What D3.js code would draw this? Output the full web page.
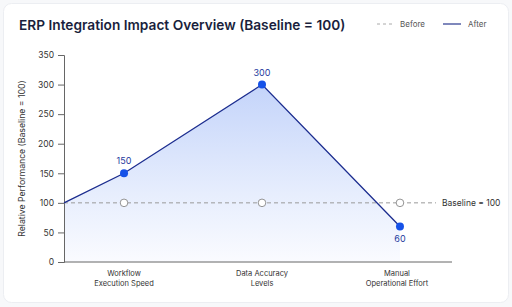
<!DOCTYPE html>
<html>
<head>
<meta charset="utf-8">
<script src="https://cdn.jsdelivr.net/npm/d3@7"></script>
<style>
  html, body { margin: 0; padding: 0; background: #f7f8fa; }
  svg { display: block; font-family: Inter, "Noto Sans", sans-serif; }
</style>
</head>
<body>
<div id="chart"></div>
<script>
// chart values
const categories = [["Workflow", "Execution Speed"], ["Data Accuracy", "Levels"], ["Manual", "Operational Effort"]];
const beforeValues = [100, 100, 100];
const afterValues = [150, 300, 60];
const startValue = 100;
const yTicks = [0, 50, 100, 150, 200, 250, 300, 350];

const width = 512, height = 307;
const margin = {left: 64, right: 52, top: 55, bottom: 45};

const svg = d3.select("#chart").append("svg")
    .attr("width", width)
    .attr("height", height);

// card
svg.append("rect")
    .attr("x", 3.5).attr("y", 3.5)
    .attr("width", width - 7).attr("height", height - 8)
    .attr("rx", 8)
    .attr("fill", "#fff")
    .attr("stroke", "#eceef2");

const keys = categories.map(d => d.join(" "));
const x = d3.scalePoint()
    .domain(keys)
    .range([margin.left, 460])
    .padding(0.435);

const y = d3.scaleLinear()
    .domain([0, 350])
    .range([height - margin.bottom, margin.top]);

// gradient for area
const defs = svg.append("defs");
const grad = defs.append("linearGradient")
    .attr("id", "areaGrad")
    .attr("x1", 0).attr("y1", 0).attr("x2", 0).attr("y2", 1);
grad.append("stop").attr("offset", "0%").attr("stop-color", "#c4d4fa");
grad.append("stop").attr("offset", "60%").attr("stop-color", "#e6edfd");
grad.append("stop").attr("offset", "100%").attr("stop-color", "#fafbff");

const afterPts = [[margin.left, startValue]].concat(afterValues.map((v, i) => [x(keys[i]), v]));

const area = d3.area()
    .x(d => d[0])
    .y0(y(0))
    .y1(d => y(d[1]));

svg.append("path")
    .datum(afterPts)
    .attr("fill", "url(#areaGrad)")
    .attr("d", area);

// axes
const yAxis = d3.axisLeft(y)
    .tickValues(yTicks)
    .tickSize(6)
    .tickPadding(4);

svg.append("g")
    .attr("transform", `translate(${margin.left},0)`)
    .call(yAxis)
    .call(g => g.selectAll("path, line").attr("stroke", "#666"))
    .call(g => g.selectAll("text")
        .attr("fill", "#333")
        .style("font-size", "8.5px")
        .style("font-family", "Inter, sans-serif"));

svg.append("line")
    .attr("x1", margin.left).attr("x2", width - margin.right - 8)
    .attr("y1", y(0)).attr("y2", y(0))
    .attr("stroke", "#666");

svg.append("text")
    .attr("transform", `translate(25,${(y(0) + y(350)) / 2}) rotate(-90)`)
    .attr("text-anchor", "middle")
    .attr("fill", "#333")
    .style("font-size", "8.7px")
    .text("Relative Performance (Baseline = 100)");

// category labels
const catLabels = svg.append("g")
    .selectAll("text")
    .data(categories)
    .join("text")
    .attr("text-anchor", "middle")
    .attr("fill", "#333")
    .style("font-size", "7.5px")
    .attr("transform", (d, i) => `translate(${x(keys[i]) - (i === 2 ? 3 : 0)},${y(0) + 14})`);
catLabels.selectAll("tspan")
    .data(d => d)
    .join("tspan")
    .attr("x", 0)
    .attr("dy", (d, i) => i === 0 ? 0 : 10)
    .text(d => d);

// before baseline
svg.append("line")
    .attr("x1", margin.left).attr("x2", 436)
    .attr("y1", y(100)).attr("y2", y(100))
    .attr("stroke", "#999")
    .attr("stroke-dasharray", "4,3");

svg.append("text")
    .attr("x", 442)
    .attr("y", y(100) + 3)
    .attr("fill", "#333")
    .style("font-size", "8.5px")
    .text("Baseline = 100");

svg.append("g")
    .selectAll("circle")
    .data(beforeValues)
    .join("circle")
    .attr("cx", (d, i) => x(keys[i]))
    .attr("cy", d => y(d))
    .attr("r", 3.8)
    .attr("fill", "#fff")
    .attr("stroke", "#888")
    .attr("stroke-width", 0.9);

// after line
svg.append("path")
    .datum(afterPts)
    .attr("fill", "none")
    .attr("stroke", "#1c2d8f")
    .attr("stroke-width", 1.3)
    .attr("d", d3.line().x(d => d[0]).y(d => y(d[1])));

svg.append("g")
    .selectAll("circle")
    .data(afterValues)
    .join("circle")
    .attr("cx", (d, i) => x(keys[i]))
    .attr("cy", d => y(d))
    .attr("r", 4)
    .attr("fill", "#1652e8");

svg.append("g")
    .selectAll("text")
    .data(afterValues)
    .join("text")
    .attr("x", (d, i) => x(keys[i]))
    .attr("y", d => d < 100 ? y(d) + 15 : y(d) - 9)
    .attr("text-anchor", "middle")
    .attr("fill", "#1e3a9e")
    .style("font-size", "9px")
    .text(d => d);

// title
svg.append("text")
    .attr("x", 19)
    .attr("y", 30)
    .attr("fill", "#1a1f3d")
    .style("font-size", "13.7px")
    .style("font-weight", 600)
    .text("ERP Integration Impact Overview (Baseline = 100)");

// legend
const legend = svg.append("g").style("font-size", "8px").attr("fill", "#555");
legend.append("line")
    .attr("x1", 377).attr("x2", 394).attr("y1", 24).attr("y2", 24)
    .attr("stroke", "#aaa").attr("stroke-dasharray", "3,3");
legend.append("text").attr("x", 400).attr("y", 27).text("Before");
legend.append("line")
    .attr("x1", 443).attr("x2", 461).attr("y1", 24).attr("y2", 24)
    .attr("stroke", "#2a3a8f").attr("stroke-width", 1.2);
legend.append("text").attr("x", 468).attr("y", 27).text("After");
</script>
</body>
</html>
